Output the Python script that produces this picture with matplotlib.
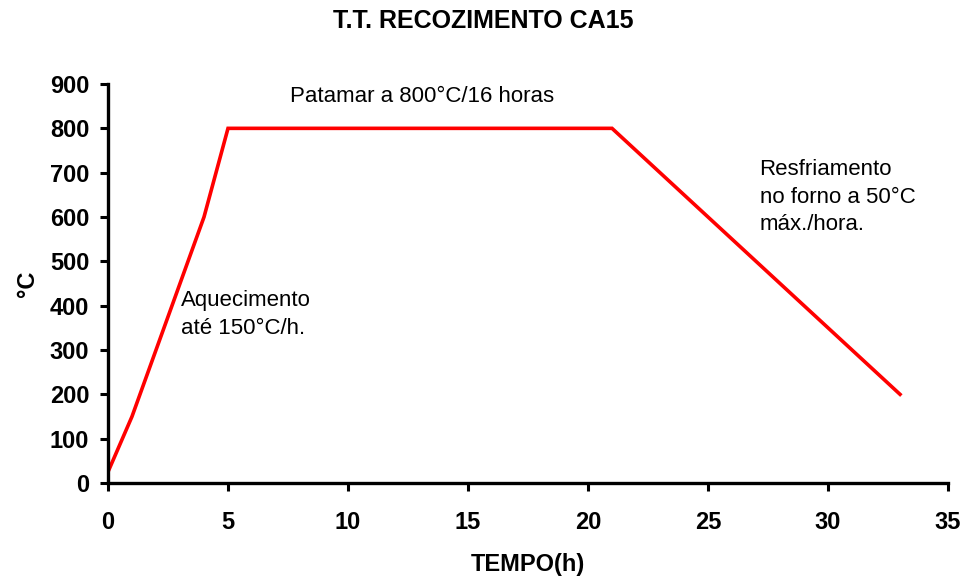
import matplotlib.pyplot as plt

plt.rcParams['font.family'] = ['Liberation Sans', 'DejaVu Sans']

# heat treatment cycle
tempo = [0, 1, 4, 5, 21, 33]
temperatura = [25, 150, 600, 800, 800, 200]

xticks = [0, 5, 10, 15, 20, 25, 30, 35]
yticks = [0, 100, 200, 300, 400, 500, 600, 700, 800, 900]

fig = plt.figure(figsize=(9.66, 5.77), dpi=100)
ax = fig.add_axes([0.1118, 0.1629, 0.8696, 0.6915])

ax.plot(tempo, temperatura, color='#ff0000', linewidth=2.6, solid_joinstyle='miter')

ax.set_xlim(0, 35)
ax.set_ylim(0, 900)
ax.set_xticks(xticks)
ax.set_yticks(yticks)
for lab in ax.get_xticklabels() + ax.get_yticklabels():
    lab.set_fontweight('bold')
ax.tick_params(labelsize=17, width=2.2, length=5.5, direction='out')
ax.tick_params(axis='x', pad=15)
ax.tick_params(axis='y', pad=8)

for s in ['top', 'right']:
    ax.spines[s].set_visible(False)
for s in ['left', 'bottom']:
    ax.spines[s].set_linewidth(2.4)

ax.set_xlabel('TEMPO(h)', fontsize=17, fontweight='bold', labelpad=13)
ax.set_ylabel('°C', fontsize=17, fontweight='bold', labelpad=8)

fig.suptitle('T.T. RECOZIMENTO CA15', fontsize=18, fontweight='bold', y=0.985)

ax.text(13.1, 871, 'Patamar a 800°C/16 horas', fontsize=16, ha='center', va='center')
ax.text(3.05, 380, 'Aquecimento\naté 150°C/h.', fontsize=16, ha='left', va='center',
        linespacing=1.4)
ax.text(27.15, 645, 'Resfriamento\nno forno a 50°C\nmáx./hora.', fontsize=16, ha='left',
        va='center', linespacing=1.4)

fig.savefig('out.png')
